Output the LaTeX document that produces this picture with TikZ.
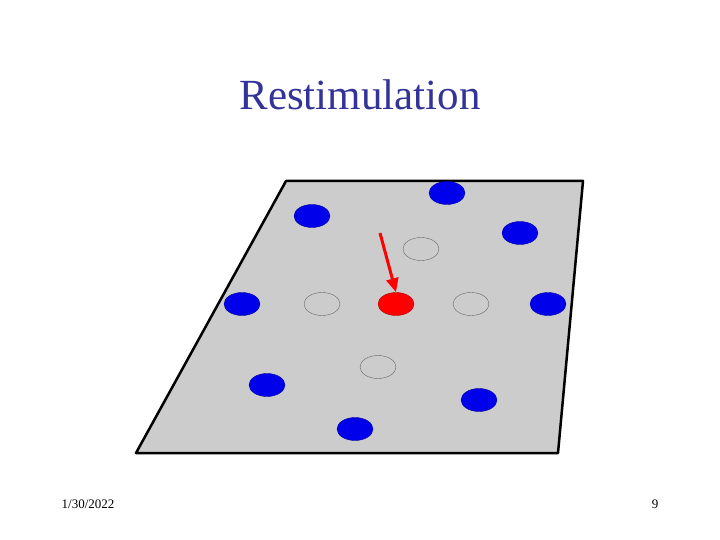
\documentclass[tikz,border=0pt]{standalone}
\usepackage{fontspec}
\setmainfont{Liberation Serif}
\usetikzlibrary{shapes.geometric,arrows.meta}
\definecolor{titleblue}{RGB}{51,51,153}
\definecolor{dotblue}{RGB}{0,0,235}
\definecolor{plate}{RGB}{204,204,204}
\begin{document}
\begin{tikzpicture}
[x=1pt, y=-1pt,
every node/.style = {inner sep=0pt},
full/.style = {ellipse, minimum width=36pt, minimum height=23pt, fill=dotblue, draw=dotblue!70!black},
empty/.style = {ellipse, minimum width=36pt, minimum height=23pt, draw=black!60, thin}]
 \useasboundingbox (0,0) rectangle (720,540);
 \node[text=titleblue, font=\fontsize{43}{50}\selectfont] (title) at (360,95) {Restimulation};
 % plate
 \draw[line width=2.5pt, line join=round, fill=plate] (286,181) -- (583,181) -- (558,453) -- (136,453) -- cycle;
 % occupied sites
 \node[full] (b1) at (447,193) {};
 \node[full] (b2) at (312,216) {};
 \node[full] (b3) at (520,233) {};
 \node[full] (b4) at (242,304) {};
 \node[full] (b5) at (548,304) {};
 \node[full] (b6) at (267,385) {};
 \node[full] (b7) at (479,400) {};
 \node[full] (b8) at (355,429) {};
 % empty sites
 \node[empty] (e1) at (421,249) {};
 \node[empty] (e2) at (322,304) {};
 \node[empty] (e3) at (471,304) {};
 \node[empty] (e4) at (378,367) {};
 % restimulated site
 \node[full, fill=red, draw=red!70!black] (r) at (396,304) {};
 \coordinate (tail) at (380,233);
 \draw[red, line width=3pt, -{Triangle[length=14pt,width=12pt]}] (tail) -- (r.north);
 % footer
 \node[font=\fontsize{13}{15}\selectfont] (date) at (88,504) {1/30/2022};
 \node[font=\fontsize{13}{15}\selectfont] (page) at (655,504) {9};
\end{tikzpicture}
\end{document}
